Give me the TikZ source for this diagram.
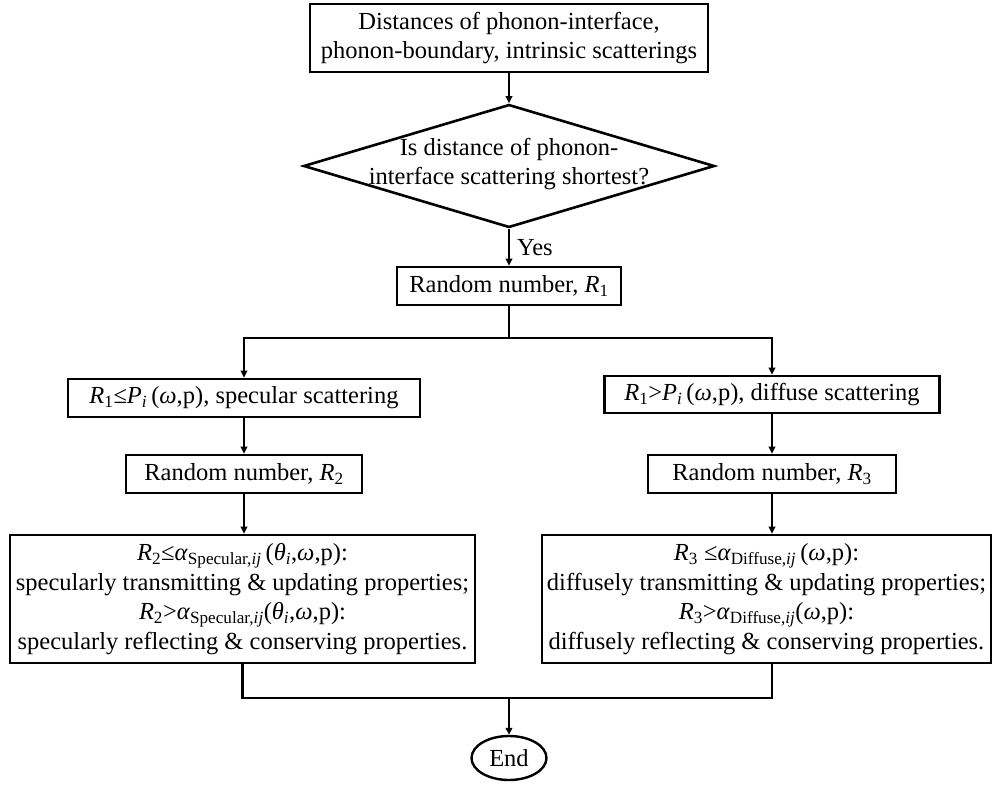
\documentclass[tikz,border=0pt]{standalone}
\usepackage{fontspec}
\setmainfont{Liberation Serif}
\usetikzlibrary{shapes.geometric,arrows.meta}
\newcommand{\vr}[1]{\textit{#1}}
\newcommand{\lo}[1]{\textsubscript{#1}}
\begin{document}
\begin{tikzpicture}[x=1pt,y=-1pt,
	txt/.style={inner sep=0pt,align=center,font=\fontsize{24.5}{29.5}\selectfont},
	box/.style={txt,draw,line width=2.6pt},
	dmd/.style={draw,diamond,line width=2.6pt,inner sep=0pt},
	ar/.style={line width=2.2pt,-{Triangle[length=7pt,width=6.5pt]}},
	ln/.style={line width=2.2pt}]
	\useasboundingbox (0,0) rectangle (994,785);
	\node[box,minimum width=398pt,minimum height=68pt] (dist) at (509,38) {Distances of phonon-interface,\\phonon-boundary, intrinsic scatterings};
	\node[dmd,minimum width=411pt,minimum height=123pt] (dia) at (509,166) {};
	\node[txt] (diatxt) at (509,164) {Is distance of phonon-\\interface scattering shortest?};
	\node[box,minimum width=224pt,minimum height=38pt] (r1) at (509,286) {Random number, \vr{R}\lo{1}};
	\node[box,minimum width=352pt,minimum height=38pt] (spec) at (244,398) {\vr{R}\lo{1}≤\vr{P}\lo{\vr{i}}\,(\vr{ω},p), specular scattering};
	\node[box,minimum width=335pt,minimum height=37pt] (diff) at (772,394.5) {\vr{R}\lo{1}>\vr{P}\lo{\vr{i}}\,(\vr{ω},p), diffuse scattering};
	\node[box,minimum width=236pt,minimum height=38pt] (r2) at (244,474) {Random number, \vr{R}\lo{2}};
	\node[box,minimum width=248pt,minimum height=38pt] (r3) at (772,474) {Random number, \vr{R}\lo{3}};
	\node[box,minimum width=465pt,minimum height=128pt] (trs) at (242.5,599) {\vr{R}\lo{2}≤\vr{α}\lo{Specular,\vr{ij}}\,(\vr{θ}\lo{\vr{i}},\vr{ω},p):\\specularly transmitting \& updating properties;\\\vr{R}\lo{2}>\vr{α}\lo{Specular,\vr{ij}}(\vr{θ}\lo{\vr{i}},\vr{ω},p):\\specularly reflecting \& conserving properties.};
	\node[box,minimum width=449pt,minimum height=128pt] (trd) at (766.5,599) {\vr{R}\lo{3} ≤\vr{α}\lo{Diffuse,\vr{ij}}\,(\vr{ω},p):\\diffusely transmitting \& updating properties;\\\vr{R}\lo{3}>\vr{α}\lo{Diffuse,\vr{ij}}(\vr{ω},p):\\diffusely reflecting \& conserving properties.};
	\node[txt,draw,ellipse,line width=2.4pt,minimum width=75pt,minimum height=44pt] (stop) at (509,758) {End};
	\coordinate (sp) at (509,338);
	\coordinate (jn) at (509,698);
	\draw[ar] (dist) -- (dia);
	\draw[ar] (dia) -- (r1) node[txt,midway,right=7pt] (yes) {Yes};
	\draw[ln] (r1) -- (sp);
	\draw[ar] (sp) -| (spec);
	\draw[ar] (sp) -| (diff);
	\draw[ar] (spec) -- (r2);
	\draw[ar] (diff) -- (r3);
	\draw[ar] (r2) -- (trs.north -| r2);
	\draw[ar] (r3) -- (trd.north -| r3);
	\draw[ln] (trs.south) |- (jn);
	\draw[ln] (trd.south -| r3) |- (jn);
	\draw[ar] (jn) -- (stop);
\end{tikzpicture}
\end{document}
